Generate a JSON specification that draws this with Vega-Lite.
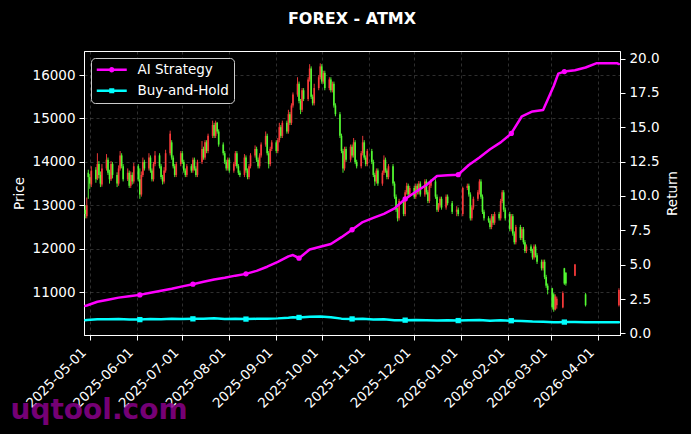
{
"$schema":"https://vega.github.io/schema/vega-lite/v6.json",
"width":536,"height":284,"autosize":"none",
"padding":{"left":84,"top":51,"right":71,"bottom":99},
"background":"#000000",
"title":{"text":"FOREX - ATMX","color":"#ffffff","fontSize":16,"font":"DejaVu Sans","fontWeight":"bold","offset":24,"anchor":"middle"},
"config":{
 "view":{"stroke":"#ffffff","strokeWidth":1,"fill":"#000000"},
 "axis":{"domainColor":"#ffffff","tickColor":"#ffffff","labelColor":"#ffffff","titleColor":"#ffffff","labelFont":"DejaVu Sans","titleFont":"DejaVu Sans","labelFontSize":13.5,"titleFontSize":13.5,"titleFontWeight":"normal","tickSize":5,"labelPadding":4,"gridColor":"#ffffff","gridOpacity":0.3,"gridDash":[3,3],"gridWidth":0.6}
},
"datasets":{
"px":[
{"d":"2025-04-28","o":12900,"h":13000,"l":12700,"c":12800},
{"d":"2025-04-29","o":12750,"h":13180,"l":12700,"c":13000},
{"d":"2025-04-30","o":13750,"h":13820,"l":13150,"c":13650},
{"d":"2025-05-01","o":13650,"h":13720,"l":13380,"c":13500},
{"d":"2025-05-02","o":13480,"h":13900,"l":13420,"c":13800},
{"d":"2025-05-05","o":13820,"h":13880,"l":13520,"c":13600},
{"d":"2025-05-06","o":13620,"h":14200,"l":13580,"c":13950},
{"d":"2025-05-07","o":13950,"h":14020,"l":13620,"c":13700},
{"d":"2025-05-08","o":13700,"h":13780,"l":13420,"c":13500},
{"d":"2025-05-09","o":13480,"h":13950,"l":13430,"c":13850},
{"d":"2025-05-12","o":13850,"h":14180,"l":13800,"c":14050},
{"d":"2025-05-13","o":14050,"h":14100,"l":13700,"c":13750},
{"d":"2025-05-14","o":13760,"h":13820,"l":13500,"c":13600},
{"d":"2025-05-15","o":13600,"h":14020,"l":13560,"c":13950},
{"d":"2025-05-16","o":13950,"h":14000,"l":13620,"c":13700},
{"d":"2025-05-19","o":13700,"h":13760,"l":13420,"c":13500},
{"d":"2025-05-20","o":13500,"h":13920,"l":13450,"c":13850},
{"d":"2025-05-21","o":13850,"h":14250,"l":13800,"c":14150},
{"d":"2025-05-22","o":14150,"h":14200,"l":13850,"c":13900},
{"d":"2025-05-23","o":13900,"h":13950,"l":13550,"c":13600},
{"d":"2025-05-26","o":13600,"h":13850,"l":13560,"c":13750},
{"d":"2025-05-27","o":13750,"h":13800,"l":13400,"c":13450},
{"d":"2025-05-28","o":13450,"h":13780,"l":13400,"c":13700},
{"d":"2025-05-29","o":13700,"h":13760,"l":13480,"c":13550},
{"d":"2025-05-30","o":13550,"h":13980,"l":13500,"c":13900},
{"d":"2025-06-02","o":13900,"h":13950,"l":13550,"c":13600},
{"d":"2025-06-03","o":13600,"h":13850,"l":13150,"c":13250},
{"d":"2025-06-04","o":13250,"h":13780,"l":13200,"c":13700},
{"d":"2025-06-05","o":13700,"h":14100,"l":13650,"c":14000},
{"d":"2025-06-06","o":14000,"h":14050,"l":13800,"c":13850},
{"d":"2025-06-09","o":13850,"h":14200,"l":13800,"c":14100},
{"d":"2025-06-10","o":14100,"h":14150,"l":13750,"c":13800},
{"d":"2025-06-11","o":13800,"h":13850,"l":13550,"c":13600},
{"d":"2025-06-12","o":13600,"h":14000,"l":13550,"c":13950},
{"d":"2025-06-13","o":13950,"h":14250,"l":13900,"c":14150},
{"d":"2025-06-16","o":14150,"h":14200,"l":13850,"c":13900},
{"d":"2025-06-17","o":13900,"h":13950,"l":13600,"c":13650},
{"d":"2025-06-18","o":13650,"h":13700,"l":13480,"c":13550},
{"d":"2025-06-19","o":13550,"h":13880,"l":13500,"c":13800},
{"d":"2025-06-20","o":13800,"h":14280,"l":13750,"c":14200},
{"d":"2025-06-23","o":14200,"h":14720,"l":14150,"c":14650},
{"d":"2025-06-24","o":14450,"h":14500,"l":14050,"c":14100},
{"d":"2025-06-25","o":14100,"h":14150,"l":13850,"c":13900},
{"d":"2025-06-26","o":13900,"h":13950,"l":13650,"c":13700},
{"d":"2025-06-27","o":13700,"h":14000,"l":13650,"c":13950},
{"d":"2025-06-30","o":13950,"h":14250,"l":13900,"c":14200},
{"d":"2025-07-01","o":14200,"h":14250,"l":13950,"c":14000},
{"d":"2025-07-02","o":14000,"h":14050,"l":13750,"c":13800},
{"d":"2025-07-03","o":13800,"h":13850,"l":13650,"c":13700},
{"d":"2025-07-04","o":13700,"h":13950,"l":13650,"c":13900},
{"d":"2025-07-07","o":13900,"h":13950,"l":13750,"c":13800},
{"d":"2025-07-08","o":13800,"h":14100,"l":13750,"c":14050},
{"d":"2025-07-09","o":14050,"h":14100,"l":13800,"c":13850},
{"d":"2025-07-10","o":13850,"h":13900,"l":13650,"c":13700},
{"d":"2025-07-11","o":13700,"h":14050,"l":13650,"c":14000},
{"d":"2025-07-14","o":14000,"h":14480,"l":13950,"c":14300},
{"d":"2025-07-15","o":14300,"h":14350,"l":14050,"c":14100},
{"d":"2025-07-16","o":14100,"h":14500,"l":14050,"c":14450},
{"d":"2025-07-17","o":14450,"h":14500,"l":14200,"c":14250},
{"d":"2025-07-18","o":14250,"h":14650,"l":14200,"c":14600},
{"d":"2025-07-21","o":14600,"h":14950,"l":14550,"c":14850},
{"d":"2025-07-22","o":14850,"h":14900,"l":14550,"c":14600},
{"d":"2025-07-23","o":14600,"h":14950,"l":14550,"c":14900},
{"d":"2025-07-24","o":14900,"h":14920,"l":14650,"c":14700},
{"d":"2025-07-25","o":14700,"h":14750,"l":14350,"c":14400},
{"d":"2025-07-28","o":14400,"h":14450,"l":14150,"c":14200},
{"d":"2025-07-29","o":14200,"h":14250,"l":13950,"c":14000},
{"d":"2025-07-30","o":14000,"h":14050,"l":13800,"c":13850},
{"d":"2025-07-31","o":13850,"h":14100,"l":13800,"c":14050},
{"d":"2025-08-01","o":14050,"h":14100,"l":13750,"c":13800},
{"d":"2025-08-04","o":13800,"h":14000,"l":13750,"c":13950},
{"d":"2025-08-05","o":13950,"h":14250,"l":13900,"c":14200},
{"d":"2025-08-06","o":14200,"h":14250,"l":13850,"c":13900},
{"d":"2025-08-07","o":13900,"h":13950,"l":13700,"c":13750},
{"d":"2025-08-08","o":13750,"h":13800,"l":13650,"c":13700},
{"d":"2025-08-11","o":13700,"h":14180,"l":13650,"c":14100},
{"d":"2025-08-12","o":14100,"h":14150,"l":13750,"c":13800},
{"d":"2025-08-13","o":13800,"h":13850,"l":13600,"c":13650},
{"d":"2025-08-14","o":13650,"h":13950,"l":13600,"c":13900},
{"d":"2025-08-15","o":13900,"h":14200,"l":13850,"c":14150},
{"d":"2025-08-18","o":14150,"h":14380,"l":14100,"c":14300},
{"d":"2025-08-19","o":14300,"h":14350,"l":14000,"c":14050},
{"d":"2025-08-20","o":14050,"h":14100,"l":13850,"c":13900},
{"d":"2025-08-21","o":13900,"h":14200,"l":13850,"c":14150},
{"d":"2025-08-22","o":14150,"h":14450,"l":14100,"c":14400},
{"d":"2025-08-25","o":14400,"h":14700,"l":14350,"c":14600},
{"d":"2025-08-26","o":14600,"h":14650,"l":14150,"c":14200},
{"d":"2025-08-27","o":14200,"h":14250,"l":13850,"c":13950},
{"d":"2025-08-28","o":13950,"h":14350,"l":13900,"c":14300},
{"d":"2025-08-29","o":14300,"h":14500,"l":14250,"c":14450},
{"d":"2025-09-01","o":14450,"h":14500,"l":14200,"c":14250},
{"d":"2025-09-02","o":14250,"h":14550,"l":14200,"c":14500},
{"d":"2025-09-03","o":14500,"h":14900,"l":14450,"c":14800},
{"d":"2025-09-04","o":14800,"h":14850,"l":14550,"c":14600},
{"d":"2025-09-05","o":14600,"h":14950,"l":14550,"c":14900},
{"d":"2025-09-08","o":14900,"h":14950,"l":14650,"c":14700},
{"d":"2025-09-09","o":14700,"h":15200,"l":14650,"c":15100},
{"d":"2025-09-10","o":15100,"h":15150,"l":14850,"c":14900},
{"d":"2025-09-11","o":14900,"h":15350,"l":14850,"c":15300},
{"d":"2025-09-12","o":15300,"h":15600,"l":15250,"c":15550},
{"d":"2025-09-15","o":15550,"h":15950,"l":15500,"c":15800},
{"d":"2025-09-16","o":15800,"h":15850,"l":15350,"c":15400},
{"d":"2025-09-17","o":15400,"h":15450,"l":15100,"c":15200},
{"d":"2025-09-18","o":15200,"h":15700,"l":15150,"c":15650},
{"d":"2025-09-19","o":15650,"h":15700,"l":15400,"c":15450},
{"d":"2025-09-22","o":15450,"h":15950,"l":15400,"c":15900},
{"d":"2025-09-23","o":15900,"h":16250,"l":15850,"c":16150},
{"d":"2025-09-24","o":16150,"h":16200,"l":15450,"c":15500},
{"d":"2025-09-25","o":15500,"h":15550,"l":15300,"c":15350},
{"d":"2025-09-26","o":15350,"h":15800,"l":15300,"c":15700},
{"d":"2025-09-29","o":15700,"h":16000,"l":15650,"c":15950},
{"d":"2025-09-30","o":15950,"h":16270,"l":15900,"c":16200},
{"d":"2025-10-01","o":16200,"h":16250,"l":15800,"c":15850},
{"d":"2025-10-02","o":15850,"h":16100,"l":15800,"c":16050},
{"d":"2025-10-03","o":16050,"h":16100,"l":15650,"c":15700},
{"d":"2025-10-06","o":15700,"h":15950,"l":15650,"c":15900},
{"d":"2025-10-07","o":15900,"h":15950,"l":15600,"c":15650},
{"d":"2025-10-08","o":15650,"h":15850,"l":15600,"c":15800},
{"d":"2025-10-09","o":15800,"h":15850,"l":15250,"c":15300},
{"d":"2025-10-10","o":15300,"h":15350,"l":15050,"c":15100},
{"d":"2025-10-13","o":15100,"h":15150,"l":14550,"c":14600},
{"d":"2025-10-14","o":14600,"h":14650,"l":14200,"c":14250},
{"d":"2025-10-15","o":14250,"h":14300,"l":13750,"c":13850},
{"d":"2025-10-16","o":13850,"h":14350,"l":13800,"c":14300},
{"d":"2025-10-17","o":14300,"h":14350,"l":14000,"c":14050},
{"d":"2025-10-20","o":14050,"h":14400,"l":14000,"c":14350},
{"d":"2025-10-21","o":14350,"h":14400,"l":14100,"c":14150},
{"d":"2025-10-22","o":14150,"h":14550,"l":14100,"c":14450},
{"d":"2025-10-23","o":14450,"h":14500,"l":13950,"c":14000},
{"d":"2025-10-24","o":14000,"h":14050,"l":13850,"c":13900},
{"d":"2025-10-27","o":13900,"h":14250,"l":13850,"c":14200},
{"d":"2025-10-28","o":14200,"h":14600,"l":14150,"c":14450},
{"d":"2025-10-29","o":14450,"h":14500,"l":14050,"c":14100},
{"d":"2025-10-30","o":14100,"h":14150,"l":13900,"c":13950},
{"d":"2025-10-31","o":13950,"h":14300,"l":13900,"c":14250},
{"d":"2025-11-03","o":14250,"h":14300,"l":13950,"c":14000},
{"d":"2025-11-04","o":14000,"h":14050,"l":13650,"c":13700},
{"d":"2025-11-05","o":13700,"h":13750,"l":13450,"c":13550},
{"d":"2025-11-06","o":13550,"h":13850,"l":13500,"c":13800},
{"d":"2025-11-07","o":13800,"h":13850,"l":13450,"c":13500},
{"d":"2025-11-10","o":13500,"h":13800,"l":13450,"c":13750},
{"d":"2025-11-11","o":13750,"h":14150,"l":13700,"c":14050},
{"d":"2025-11-12","o":14050,"h":14100,"l":13750,"c":13800},
{"d":"2025-11-13","o":13800,"h":13850,"l":13600,"c":13650},
{"d":"2025-11-14","o":13650,"h":13950,"l":13600,"c":13900},
{"d":"2025-11-17","o":13900,"h":13950,"l":13450,"c":13500},
{"d":"2025-11-18","o":13500,"h":13550,"l":13150,"c":13200},
{"d":"2025-11-19","o":13200,"h":13250,"l":12850,"c":12900},
{"d":"2025-11-20","o":12900,"h":12950,"l":12630,"c":12700},
{"d":"2025-11-21","o":12700,"h":13150,"l":12650,"c":13100},
{"d":"2025-11-24","o":13100,"h":13150,"l":12750,"c":12800},
{"d":"2025-11-25","o":12800,"h":13350,"l":12750,"c":13300},
{"d":"2025-11-26","o":13300,"h":13520,"l":13250,"c":13450},
{"d":"2025-11-27","o":13450,"h":13500,"l":13200,"c":13250},
{"d":"2025-11-28","o":13250,"h":13450,"l":13200,"c":13400},
{"d":"2025-12-01","o":13400,"h":13450,"l":13150,"c":13200},
{"d":"2025-12-02","o":13200,"h":13500,"l":13150,"c":13450},
{"d":"2025-12-03","o":13450,"h":13500,"l":13250,"c":13300},
{"d":"2025-12-04","o":13300,"h":13560,"l":13250,"c":13500},
{"d":"2025-12-05","o":13500,"h":13550,"l":13200,"c":13250},
{"d":"2025-12-08","o":13250,"h":13600,"l":13200,"c":13550},
{"d":"2025-12-09","o":13550,"h":13600,"l":13250,"c":13300},
{"d":"2025-12-10","o":13300,"h":13350,"l":13050,"c":13100},
{"d":"2025-12-11","o":13100,"h":13500,"l":13050,"c":13450},
{"d":"2025-12-12","o":13450,"h":13600,"l":13400,"c":13550},
{"d":"2025-12-15","o":13550,"h":13600,"l":13150,"c":13200},
{"d":"2025-12-16","o":13200,"h":13250,"l":12850,"c":12900},
{"d":"2025-12-17","o":12900,"h":13050,"l":12850,"c":13000},
{"d":"2025-12-18","o":13000,"h":13200,"l":12950,"c":13150},
{"d":"2025-12-19","o":13150,"h":13200,"l":12900,"c":12950},
{"d":"2025-12-22","o":12950,"h":13250,"l":12900,"c":13200},
{"d":"2025-12-23","o":13200,"h":13250,"l":13000,"c":13050},
{"d":"2025-12-26","o":13050,"h":13100,"l":12800,"c":12850},
{"d":"2025-12-29","o":12850,"h":12980,"l":12750,"c":12900},
{"d":"2025-12-30","o":12900,"h":12950,"l":12750,"c":12800},
{"d":"2026-01-02","o":12800,"h":13430,"l":12750,"c":13400},
{"d":"2026-01-05","o":13400,"h":13500,"l":13350,"c":13450},
{"d":"2026-01-06","o":13450,"h":13500,"l":13200,"c":13250},
{"d":"2026-01-07","o":13250,"h":13300,"l":12650,"c":12700},
{"d":"2026-01-08","o":12700,"h":13000,"l":12650,"c":12950},
{"d":"2026-01-09","o":12950,"h":13200,"l":12900,"c":13150},
{"d":"2026-01-12","o":13150,"h":13350,"l":13100,"c":13300},
{"d":"2026-01-13","o":13300,"h":13600,"l":13250,"c":13550},
{"d":"2026-01-14","o":13550,"h":13600,"l":13150,"c":13200},
{"d":"2026-01-15","o":13200,"h":13250,"l":12800,"c":12850},
{"d":"2026-01-16","o":12850,"h":12900,"l":12650,"c":12700},
{"d":"2026-01-19","o":12700,"h":12750,"l":12600,"c":12650},
{"d":"2026-01-20","o":12650,"h":12700,"l":12450,"c":12500},
{"d":"2026-01-21","o":12500,"h":12800,"l":12450,"c":12750},
{"d":"2026-01-22","o":12750,"h":12800,"l":12550,"c":12600},
{"d":"2026-01-23","o":12600,"h":12850,"l":12550,"c":12800},
{"d":"2026-01-26","o":12800,"h":12850,"l":12650,"c":12700},
{"d":"2026-01-27","o":12700,"h":13150,"l":12650,"c":13100},
{"d":"2026-01-28","o":13100,"h":13350,"l":13050,"c":13300},
{"d":"2026-01-29","o":13300,"h":13350,"l":12850,"c":12900},
{"d":"2026-01-30","o":12900,"h":12950,"l":12650,"c":12700},
{"d":"2026-02-02","o":12800,"h":12850,"l":12400,"c":12450},
{"d":"2026-02-03","o":12450,"h":12800,"l":12400,"c":12750},
{"d":"2026-02-04","o":12750,"h":12800,"l":12300,"c":12350},
{"d":"2026-02-05","o":12350,"h":12400,"l":12100,"c":12150},
{"d":"2026-02-06","o":12150,"h":12550,"l":12100,"c":12500},
{"d":"2026-02-09","o":12500,"h":12550,"l":12200,"c":12250},
{"d":"2026-02-10","o":12250,"h":12500,"l":12200,"c":12450},
{"d":"2026-02-11","o":12450,"h":12500,"l":12100,"c":12150},
{"d":"2026-02-12","o":12150,"h":12200,"l":11900,"c":11950},
{"d":"2026-02-13","o":11950,"h":12100,"l":11900,"c":12050},
{"d":"2026-02-16","o":12050,"h":12100,"l":11900,"c":11950},
{"d":"2026-02-17","o":11950,"h":12000,"l":11750,"c":11800},
{"d":"2026-02-18","o":11800,"h":12100,"l":11750,"c":12050},
{"d":"2026-02-19","o":12050,"h":12100,"l":11800,"c":11850},
{"d":"2026-02-20","o":11850,"h":11900,"l":11650,"c":11700},
{"d":"2026-02-23","o":11700,"h":11750,"l":11500,"c":11550},
{"d":"2026-02-24","o":11550,"h":11750,"l":11500,"c":11700},
{"d":"2026-02-25","o":11700,"h":11750,"l":11300,"c":11350},
{"d":"2026-02-26","o":11350,"h":11400,"l":11100,"c":11150},
{"d":"2026-02-27","o":11150,"h":11200,"l":10950,"c":11050},
{"d":"2026-03-02","o":11090,"h":11100,"l":10600,"c":10650},
{"d":"2026-03-03","o":10950,"h":10980,"l":10550,"c":10600},
{"d":"2026-03-04","o":10600,"h":10950,"l":10580,"c":10900},
{"d":"2026-03-05","o":10700,"h":10900,"l":10620,"c":10850},
{"d":"2026-03-09","o":10650,"h":11020,"l":10630,"c":10980},
{"d":"2026-03-10","o":11550,"h":11560,"l":11170,"c":11200},
{"d":"2026-03-11","o":11450,"h":11460,"l":11150,"c":11200},
{"d":"2026-03-17","o":11380,"h":11650,"l":11370,"c":11640},
{"d":"2026-03-24","o":10950,"h":10980,"l":10670,"c":10700},
{"d":"2026-04-15","o":10700,"h":11090,"l":10670,"c":11050}
],
"rt":[
{"d":"2025-04-28","AI Strategy":2.0,"Buy-and-Hold":0.96,"m":0},
{"d":"2025-04-29","AI Strategy":2.03,"Buy-and-Hold":0.977,"m":0},
{"d":"2025-05-06","AI Strategy":2.3,"Buy-and-Hold":1.03,"m":0},
{"d":"2025-05-13","AI Strategy":2.45,"Buy-and-Hold":1.034,"m":0},
{"d":"2025-05-20","AI Strategy":2.6,"Buy-and-Hold":1.041,"m":0},
{"d":"2025-05-27","AI Strategy":2.7,"Buy-and-Hold":1.011,"m":0},
{"d":"2025-06-03","AI Strategy":2.8,"Buy-and-Hold":1.0,"m":1},
{"d":"2025-06-10","AI Strategy":2.95,"Buy-and-Hold":1.038,"m":0},
{"d":"2025-06-17","AI Strategy":3.1,"Buy-and-Hold":1.026,"m":0},
{"d":"2025-06-24","AI Strategy":3.25,"Buy-and-Hold":1.06,"m":0},
{"d":"2025-07-01","AI Strategy":3.42,"Buy-and-Hold":1.053,"m":0},
{"d":"2025-07-08","AI Strategy":3.58,"Buy-and-Hold":1.056,"m":1},
{"d":"2025-07-15","AI Strategy":3.75,"Buy-and-Hold":1.06,"m":0},
{"d":"2025-07-22","AI Strategy":3.92,"Buy-and-Hold":1.098,"m":0},
{"d":"2025-07-29","AI Strategy":4.05,"Buy-and-Hold":1.053,"m":0},
{"d":"2025-08-05","AI Strategy":4.2,"Buy-and-Hold":1.068,"m":0},
{"d":"2025-08-12","AI Strategy":4.33,"Buy-and-Hold":1.038,"m":1},
{"d":"2025-08-19","AI Strategy":4.55,"Buy-and-Hold":1.056,"m":0},
{"d":"2025-08-26","AI Strategy":4.85,"Buy-and-Hold":1.068,"m":0},
{"d":"2025-09-02","AI Strategy":5.2,"Buy-and-Hold":1.09,"m":0},
{"d":"2025-09-09","AI Strategy":5.6,"Buy-and-Hold":1.135,"m":0},
{"d":"2025-09-12","AI Strategy":5.7,"Buy-and-Hold":1.17,"m":0},
{"d":"2025-09-16","AI Strategy":5.47,"Buy-and-Hold":1.158,"m":1},
{"d":"2025-09-23","AI Strategy":6.1,"Buy-and-Hold":1.214,"m":0},
{"d":"2025-09-30","AI Strategy":6.3,"Buy-and-Hold":1.218,"m":0},
{"d":"2025-10-07","AI Strategy":6.5,"Buy-and-Hold":1.177,"m":0},
{"d":"2025-10-14","AI Strategy":7.0,"Buy-and-Hold":1.071,"m":0},
{"d":"2025-10-21","AI Strategy":7.54,"Buy-and-Hold":1.05,"m":1},
{"d":"2025-10-28","AI Strategy":8.1,"Buy-and-Hold":1.06,"m":0},
{"d":"2025-11-04","AI Strategy":8.4,"Buy-and-Hold":1.0,"m":0},
{"d":"2025-11-11","AI Strategy":8.7,"Buy-and-Hold":1.02,"m":0},
{"d":"2025-11-18","AI Strategy":9.1,"Buy-and-Hold":0.96,"m":0},
{"d":"2025-11-25","AI Strategy":9.78,"Buy-and-Hold":0.96,"m":1},
{"d":"2025-12-02","AI Strategy":10.3,"Buy-and-Hold":0.97,"m":0},
{"d":"2025-12-09","AI Strategy":10.8,"Buy-and-Hold":0.96,"m":0},
{"d":"2025-12-16","AI Strategy":11.45,"Buy-and-Hold":0.94,"m":0},
{"d":"2025-12-23","AI Strategy":11.5,"Buy-and-Hold":0.95,"m":0},
{"d":"2025-12-30","AI Strategy":11.55,"Buy-and-Hold":0.93,"m":1},
{"d":"2026-01-06","AI Strategy":12.25,"Buy-and-Hold":0.96,"m":0},
{"d":"2026-01-13","AI Strategy":12.8,"Buy-and-Hold":0.98,"m":0},
{"d":"2026-01-20","AI Strategy":13.4,"Buy-and-Hold":0.91,"m":0},
{"d":"2026-01-27","AI Strategy":13.9,"Buy-and-Hold":0.95,"m":0},
{"d":"2026-02-03","AI Strategy":14.55,"Buy-and-Hold":0.92,"m":1},
{"d":"2026-02-10","AI Strategy":15.8,"Buy-and-Hold":0.9,"m":0},
{"d":"2026-02-17","AI Strategy":16.15,"Buy-and-Hold":0.86,"m":0},
{"d":"2026-02-24","AI Strategy":16.25,"Buy-and-Hold":0.85,"m":0},
{"d":"2026-03-03","AI Strategy":18.0,"Buy-and-Hold":0.8,"m":0},
{"d":"2026-03-06","AI Strategy":18.9,"Buy-and-Hold":0.8,"m":0},
{"d":"2026-03-10","AI Strategy":19.05,"Buy-and-Hold":0.82,"m":1},
{"d":"2026-03-17","AI Strategy":19.15,"Buy-and-Hold":0.83,"m":0},
{"d":"2026-03-24","AI Strategy":19.35,"Buy-and-Hold":0.8,"m":0},
{"d":"2026-03-31","AI Strategy":19.65,"Buy-and-Hold":0.8,"m":0},
{"d":"2026-04-07","AI Strategy":19.65,"Buy-and-Hold":0.8,"m":0},
{"d":"2026-04-14","AI Strategy":19.65,"Buy-and-Hold":0.8,"m":0},
{"d":"2026-04-15","AI Strategy":19.6,"Buy-and-Hold":0.8,"m":0}
]
},
"encoding":{
 "x":{"field":"d","type":"temporal",
  "scale":{"type":"utc","domain":[{"year":2025,"month":4,"date":27,"hours":4,"utc":true},{"year":2026,"month":4,"date":15,"hours":17,"utc":true}]},
  "axis":{"labelExpr":"utcFormat(datum.value, '%Y-%m-%d')","tickCount":{"interval":"month","step":1},"labelAngle":-45,"labelAlign":"right","labelBaseline":"middle","labelOffset":-6,"labelPadding":10,"labelOverlap":false,"labelFlush":false,"labelBound":false,"grid":true,
   "title":"uqtool.com","titleColor":"#8b008b","titleOpacity":0.85,"titleFontSize":28,"titleFontWeight":"bold","titleAlign":"left","titleBaseline":"alphabetic","titleAngle":0,"titleX":-74,"titleY":83}}
},
"layer":[
 {"data":{"name":"px"},
  "encoding":{"color":{"condition":{"test":"datum.c >= datum.o","value":"#ff3c3c"},"value":"#55ff33"}},
  "layer":[
   {"mark":{"type":"rule","strokeWidth":1,"opacity":0.9},
    "encoding":{"y":{"field":"l","type":"quantitative","scale":{"domain":[10014,16554],"nice":false,"zero":false},
      "axis":{"title":"Price","values":[11000,12000,13000,14000,15000,16000],"format":"d","grid":true,"titlePadding":6,"labelBound":false}},
     "y2":{"field":"h"}}},
   {"mark":{"type":"rule","strokeWidth":1.7,"opacity":0.9},
    "encoding":{"y":{"field":"o","type":"quantitative"},"y2":{"field":"c"}}}
  ]},
 {"data":{"name":"rt"},
  "transform":[{"fold":["AI Strategy","Buy-and-Hold"],"as":["s","r"]}],
  "encoding":{"y":{"field":"r","type":"quantitative","scale":{"domain":[-0.12,20.55],"nice":false,"zero":false},
    "axis":{"orient":"right","title":"Return","values":[0,2.5,5,7.5,10,12.5,15,17.5,20],"format":".1f","grid":false,"titleAngle":270,"titleBaseline":"top","titlePadding":6,"labelBound":false}}},
  "layer":[
   {"mark":{"type":"line","strokeWidth":2.5,"strokeJoin":"round","strokeCap":"round"},
    "encoding":{"color":{"field":"s","type":"nominal","scale":{"domain":["AI Strategy","Buy-and-Hold"],"range":["#ff00ff","#00ffff"]},
     "legend":{"title":null,"orient":"top-left","offset":7,"padding":5,"fillColor":"#000000","strokeColor":"#cccccc","cornerRadius":4,"labelColor":"#ffffff","labelFont":"DejaVu Sans","labelFontSize":13.5,"labelOffset":28,"rowPadding":6,"symbolSize":144,"symbolStrokeWidth":0,
      "encode":{"symbols":{"update":{"shape":{"signal":"datum.value === 'AI Strategy' ? 'M-1 -0.21 H4 V0.21 H-1 Z M1.95 0 A0.45 0.45 0 1 1 1.05 0 A0.45 0.45 0 1 1 1.95 0 Z' : 'M-1 -0.21 H4 V0.21 H-1 Z M1.08 -0.42 H1.92 V0.42 H1.08 Z'"},"fill":{"signal":"datum.value === 'AI Strategy' ? '#ff00ff' : '#00ffff'"},"fillOpacity":{"value":1},"strokeWidth":{"value":0}}}}}}}},
   {"transform":[{"filter":"datum.m == 1 && datum.s == 'AI Strategy'"}],
    "mark":{"type":"point","filled":true,"shape":"circle","size":28,"color":"#ff00ff","opacity":1}},
   {"transform":[{"filter":"datum.m == 1 && datum.s == 'Buy-and-Hold'"}],
    "mark":{"type":"point","filled":true,"shape":"square","size":28,"color":"#00ffff","opacity":1}}
  ]}
],
"resolve":{"scale":{"y":"independent"}}
}
